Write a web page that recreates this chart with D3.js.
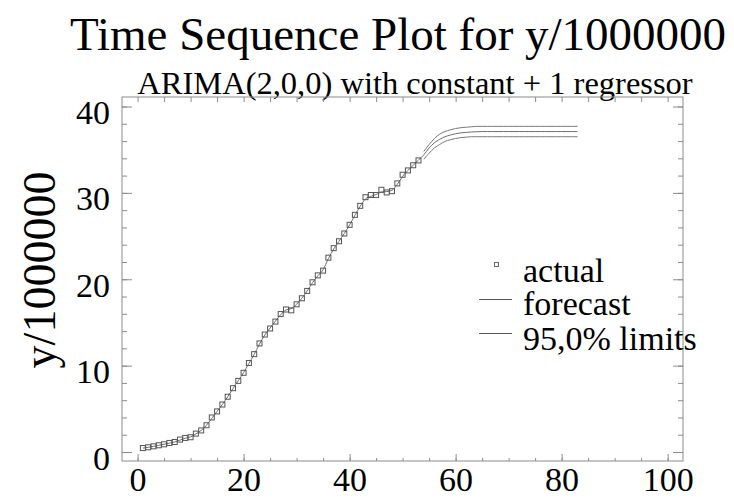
<!DOCTYPE html>
<html>
<head>
<meta charset="utf-8">
<script src="https://cdn.jsdelivr.net/npm/d3@7"></script>
<style>
  body { margin: 0; background: #fff; }
  text { font-family: "Liberation Serif", "Times New Roman", serif; fill: #000; }
</style>
</head>
<body>
<div id="chart"></div>
<script>
// observed series (t = 1..53), y / 1e6
const actual = [0.46, 0.55, 0.66, 0.78, 0.89, 1.05, 1.16, 1.44, 1.63, 1.71,
    2.13, 2.5, 3.1, 4.0, 4.7, 5.5, 6.4, 7.39, 8.24, 9.17,
    10.3, 11.33, 12.57, 13.6, 14.3, 15.1, 15.97, 16.5, 16.4, 17.1,
    17.8, 18.65, 19.65, 20.45, 21.0, 22.5, 23.6, 24.4, 25.3, 26.3,
    27.46, 28.5, 29.5, 29.75, 29.75, 30.36, 30.05, 30.2, 31.1, 32.1,
    32.6, 33.2, 33.76];

// one-step fitted values (t = 1..53)
const fitted = [0.45, 0.55, 0.65, 0.77, 0.9, 1.03, 1.17, 1.38, 1.6, 1.75,
    2.1, 2.5, 3.1, 3.9, 4.7, 5.5, 6.4, 7.35, 8.25, 9.2,
    10.25, 11.3, 12.5, 13.55, 14.35, 15.15, 15.9, 16.45, 16.6, 17.1,
    17.8, 18.65, 19.6, 20.4, 21.1, 22.4, 23.5, 24.4, 25.3, 26.3,
    27.4, 28.45, 29.3, 29.6, 29.8, 30.1, 30.15, 30.3, 31.0, 31.9,
    32.6, 33.2, 33.8];

// forecasts t = 54..83
const forecast = [34.4, 35.2, 35.8, 36.2, 36.5, 36.7, 36.85, 36.95, 37.0, 37.05,
    37.08, 37.1, 37.1, 37.1, 37.1, 37.1, 37.1, 37.1, 37.1, 37.1,
    37.1, 37.1, 37.1, 37.1, 37.1, 37.1, 37.1, 37.1, 37.1, 37.1];
const upper = [34.8, 35.6, 36.3, 36.8, 37.1, 37.3, 37.45, 37.55, 37.6, 37.65,
    37.7, 37.7, 37.7, 37.7, 37.7, 37.7, 37.7, 37.7, 37.7, 37.7,
    37.7, 37.7, 37.7, 37.7, 37.7, 37.7, 37.7, 37.7, 37.7, 37.7];
const lower = [33.9, 34.6, 35.2, 35.6, 35.95, 36.15, 36.3, 36.4, 36.45, 36.5,
    36.5, 36.5, 36.5, 36.5, 36.5, 36.5, 36.5, 36.5, 36.5, 36.5,
    36.5, 36.5, 36.5, 36.5, 36.5, 36.5, 36.5, 36.5, 36.5, 36.5];

const xTicks = [0, 20, 40, 60, 80, 100];
const yTicks = [0, 10, 20, 30, 40];
const legendLabels = ["actual", "forecast", "95,0% limits"];

function drawChart() {
    const svg = d3.select("#chart").append("svg")
        .attr("width", 734)
        .attr("height", 499);

    const frame = { left: 122, top: 97, right: 683, bottom: 461 };

    const x = d3.scaleLinear().domain([-2.94, 102.9]).range([frame.left, frame.right]);
    const y = d3.scaleLinear().domain([-1.04, 41.1]).range([frame.bottom, frame.top]);

    const grey = "#8c8c8c";

    // titles
    svg.append("text")
        .attr("x", 398).attr("y", 50)
        .attr("text-anchor", "middle")
        .style("font-size", "47px")
        .text("Time Sequence Plot for y/1000000");
    svg.append("text")
        .attr("x", 415).attr("y", 94)
        .attr("text-anchor", "middle")
        .style("font-size", "32.5px")
        .text("ARIMA(2,0,0) with constant + 1 regressor");

    svg.append("text")
        .attr("transform", "translate(55,270) rotate(-90)")
        .attr("text-anchor", "middle")
        .style("font-size", "46px")
        .text("y/1000000");

    // frame
    svg.append("rect")
        .attr("x", frame.left).attr("y", frame.top)
        .attr("width", frame.right - frame.left)
        .attr("height", frame.bottom - frame.top)
        .attr("fill", "none")
        .attr("stroke", grey);

    const minorX = d3.range(0, 101, 5);
    const minorY = d3.range(0, 41, 2);

    // inward ticks on all four sides
    const axes = [
        svg.append("g").attr("transform", `translate(0,${frame.bottom})`)
            .call(d3.axisBottom(x).tickValues(minorX).tickSize(-3).tickFormat("")),
        svg.append("g").attr("transform", `translate(0,${frame.bottom})`)
            .call(d3.axisBottom(x).tickValues(xTicks).tickSize(-7)),
        svg.append("g").attr("transform", `translate(0,${frame.top})`)
            .call(d3.axisTop(x).tickValues(minorX).tickSize(-5).tickFormat("")),
        svg.append("g").attr("transform", `translate(${frame.left},0)`)
            .call(d3.axisLeft(y).tickValues(minorY).tickSize(-5).tickFormat("")),
        svg.append("g").attr("transform", `translate(${frame.left},0)`)
            .call(d3.axisLeft(y).tickValues(yTicks).tickSize(-10).tickPadding(12)),
        svg.append("g").attr("transform", `translate(${frame.right},0)`)
            .call(d3.axisRight(y).tickValues(minorY).tickSize(-5).tickFormat("")),
        svg.append("g").attr("transform", `translate(${frame.right},0)`)
            .call(d3.axisRight(y).tickValues(yTicks).tickSize(-10).tickFormat(""))
    ];
    axes.forEach(g => {
        g.select(".domain").remove();
        g.selectAll(".tick line").attr("stroke", grey);
        g.selectAll(".tick text")
            .style("font-family", '"Liberation Serif", serif')
            .style("font-size", "34px")
            .attr("fill", "#000");
    });
    axes[1].selectAll(".tick text").attr("dy", null).attr("y", 30);
    axes[4].selectAll(".tick text").attr("dy", "0.5em");

    // fitted + forecast line
    const fitLine = fitted.concat(forecast).map((v, i) => ({ t: i + 1, v: v }));
    const line = d3.line().x(d => x(d.t)).y(d => y(d.v)).curve(d3.curveMonotoneX);
    svg.append("path")
        .datum(fitLine)
        .attr("fill", "none")
        .attr("stroke", "#6e6e6e")
        .attr("stroke-width", 1)
        .attr("d", line);

    [upper, lower].forEach(arr => {
        svg.append("path")
            .datum(arr.map((v, i) => ({ t: i + 54, v: v })))
            .attr("fill", "none")
            .attr("stroke", "#7a7a7a")
            .attr("stroke-width", 1)
            .attr("d", line);
    });

    // observed points
    svg.selectAll("rect.pt")
        .data(actual.map((v, i) => ({ t: i + 1, v: v })))
        .enter().append("rect")
        .attr("class", "pt")
        .attr("x", d => x(d.t) - 2.5)
        .attr("y", d => y(d.v) - 2.5)
        .attr("width", 5)
        .attr("height", 5)
        .attr("fill", "none")
        .attr("stroke", "#555")
        .attr("stroke-width", 1);

    // legend
    const lg = svg.append("g");
    lg.append("rect")
        .attr("x", 494.5).attr("y", 262.5)
        .attr("width", 4).attr("height", 4)
        .attr("fill", "none").attr("stroke", "#666");
    [299.5, 333.5].forEach(yy => {
        lg.append("line")
            .attr("x1", 479).attr("x2", 512)
            .attr("y1", yy).attr("y2", yy)
            .attr("stroke", "#555");
    });
    lg.selectAll("text")
        .data(legendLabels)
        .enter().append("text")
        .attr("x", 523)
        .attr("y", (d, i) => [281.5, 315, 350][i])
        .style("font-size", "34px")
        .text(d => d);
}

drawChart();
</script>
</body>
</html>
